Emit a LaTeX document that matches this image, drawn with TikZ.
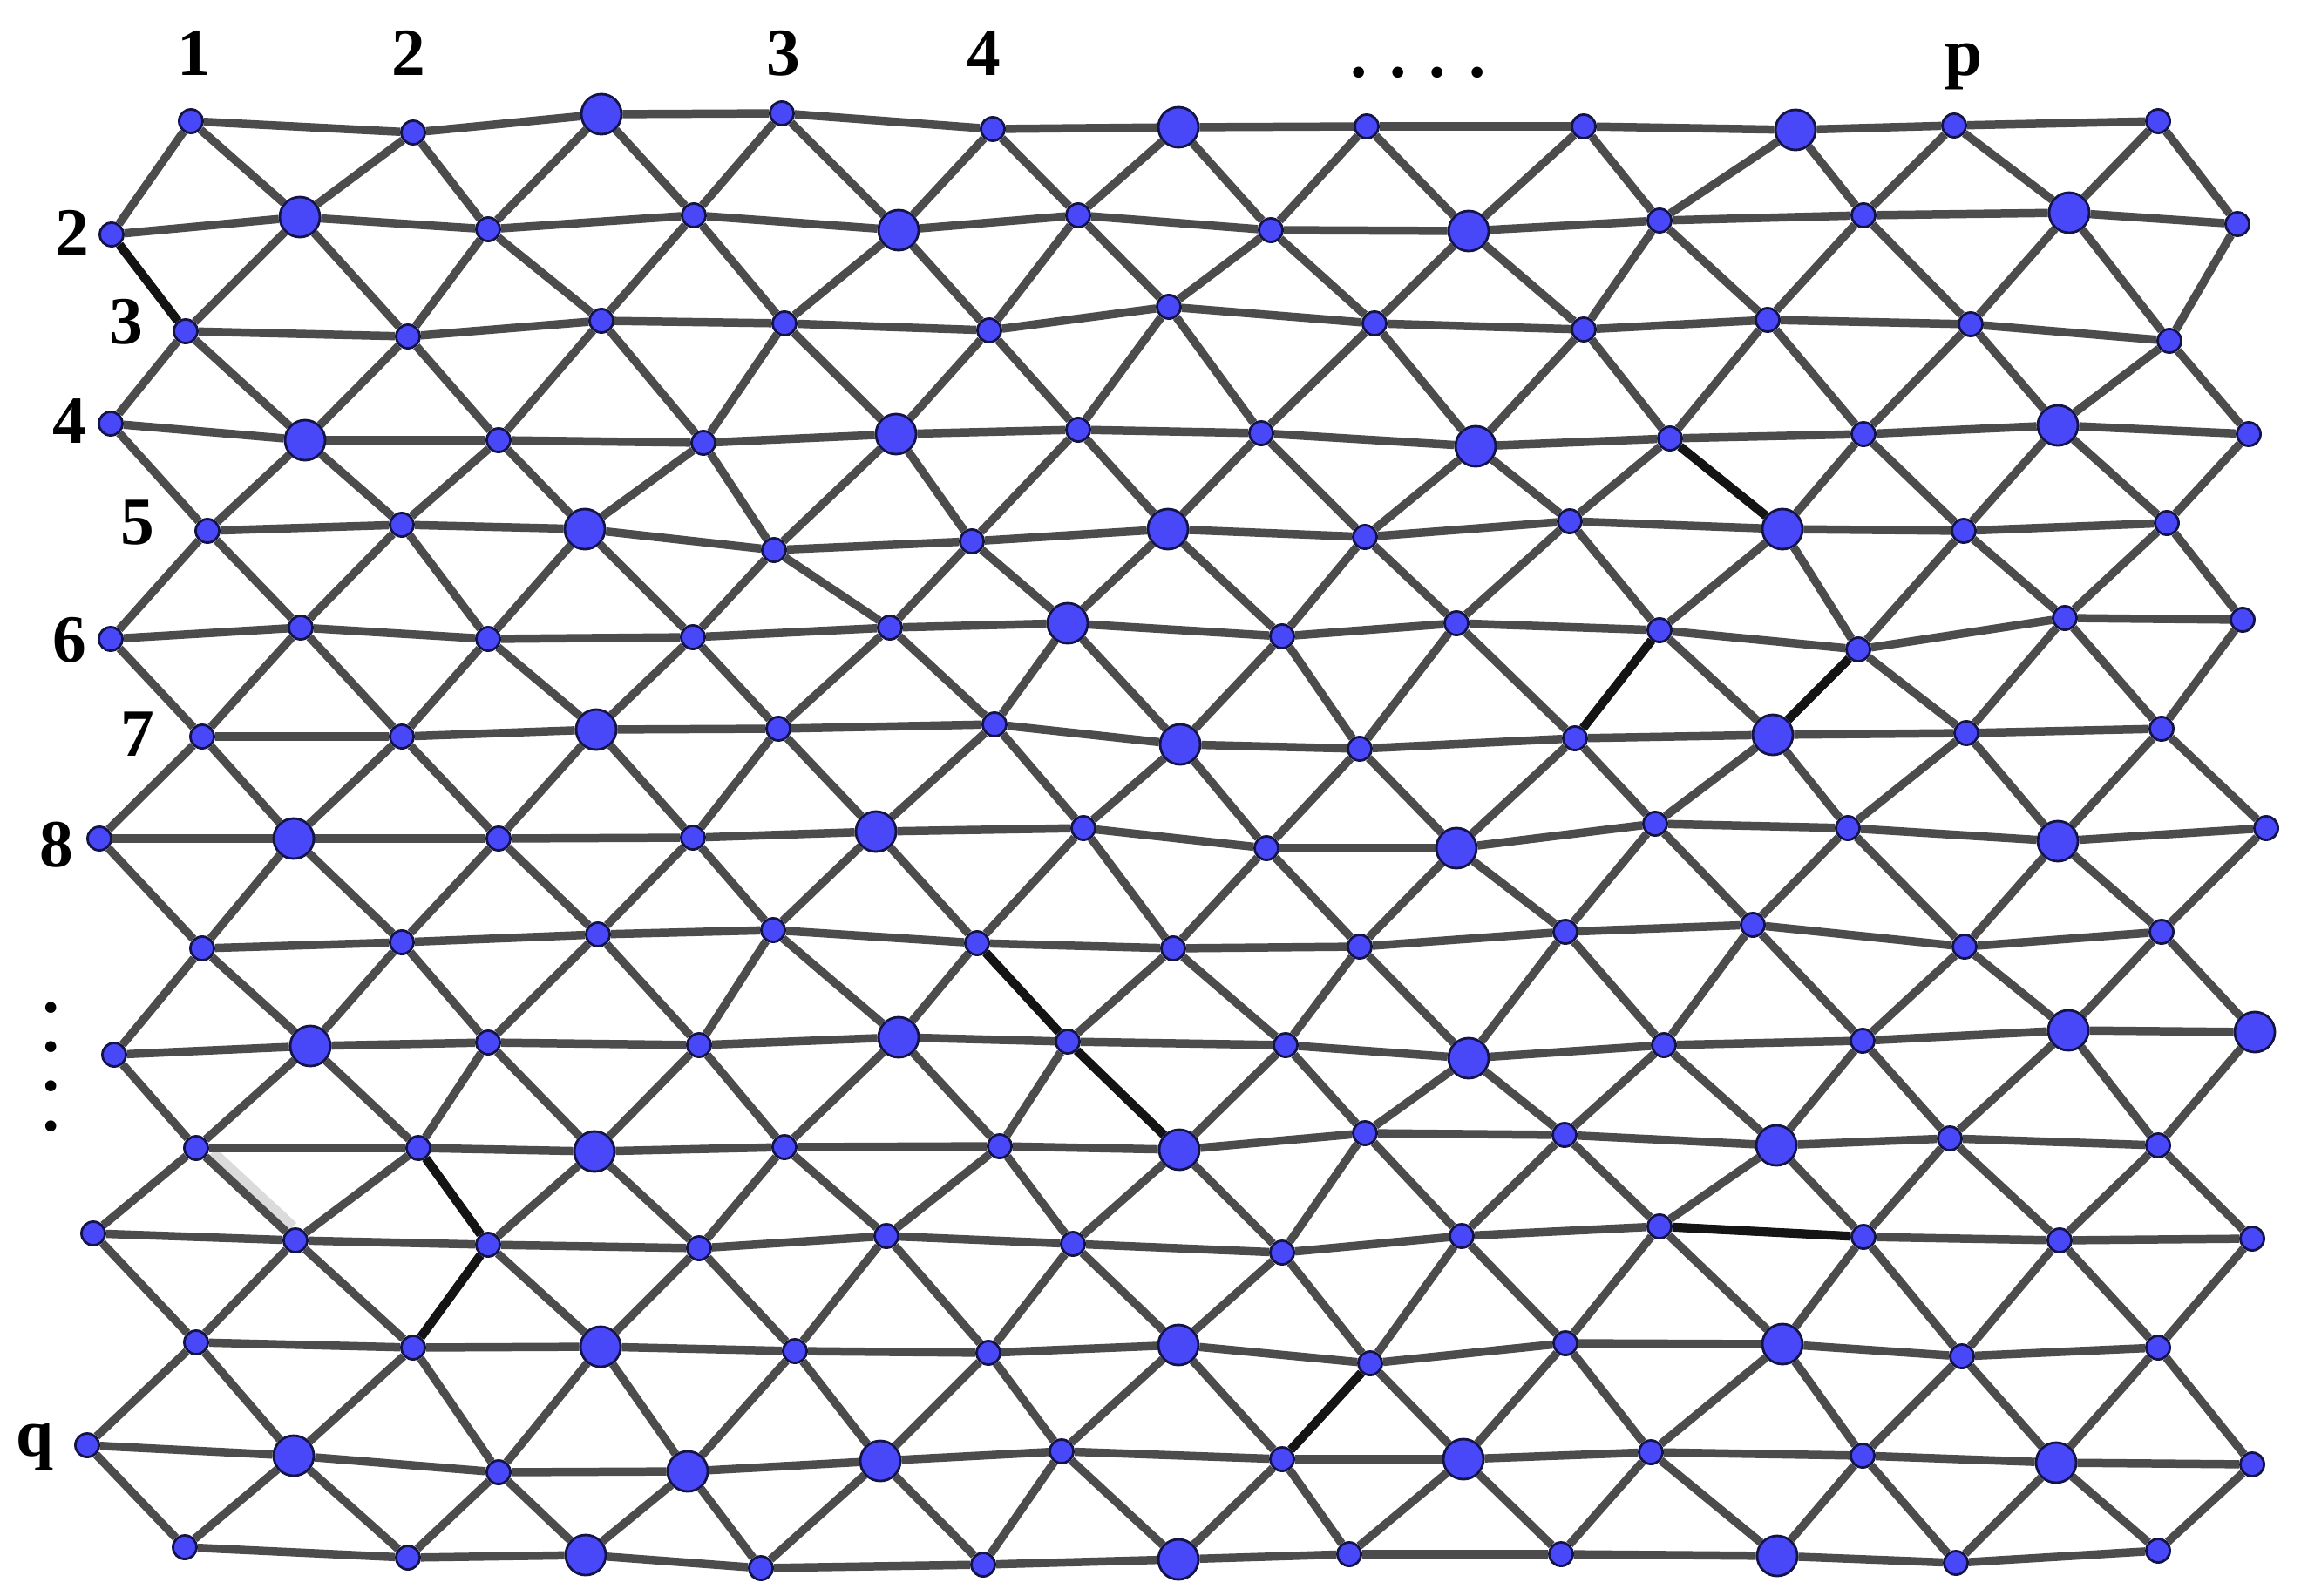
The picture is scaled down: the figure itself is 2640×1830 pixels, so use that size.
\documentclass[tikz,border=0pt]{standalone}
\usepackage{fontspec}
\setmainfont{Liberation Serif}
\pgfdeclarelayer{bg}
\pgfsetlayers{bg,main}
\definecolor{nodeblue}{RGB}{72,72,248}
\definecolor{linkgray}{RGB}{76,76,76}
\definecolor{rimblue}{RGB}{20,20,70}
\begin{document}
\begin{tikzpicture}[x=0.01cm,y=-0.01cm,
  vtx/.style={circle,draw=rimblue,line width=0.8pt,fill=nodeblue,inner sep=0pt},
  sn/.style={vtx,minimum size=0.27cm},
  bn/.style={vtx,minimum size=0.46cm},
  lnk/.style={draw=linkgray,line width=2.7pt},
  dk/.style={draw=black!92,line width=2.9pt},
  lab/.style={font=\bfseries\fontsize{22}{24}\selectfont,anchor=base,inner sep=0pt}]
\useasboundingbox (0,0) rectangle (2640,1830);
% vertices
\foreach \nm/\x/\y/\s in {
 1-1/219/139/sn, 1-2/474/152/sn, 1-3/690/131/bn, 1-4/897/130/sn, 1-5/1139/148/sn, 1-6/1352/146/bn, 1-7/1568/145/sn, 1-8/1817/145/sn, 1-9/2060/149/bn, 1-10/2242/144/sn, 1-11/2476/139/sn,
 2-1/128/269/sn, 2-2/344/249/bn, 2-3/560/263/sn, 2-4/796/247/sn, 2-5/1031/264/bn, 2-6/1237/247/sn, 2-7/1458/264/sn, 2-8/1685/265/bn, 2-9/1904/253/sn, 2-10/2138/247/sn, 2-11/2374/244/bn, 2-12/2567/257/sn,
 3-1/213/380/sn, 3-2/468/386/sn, 3-3/690/368/sn, 3-4/900/371/sn, 3-5/1135/379/sn, 3-6/1341/352/sn, 3-7/1577/371/sn, 3-8/1817/378/sn, 3-9/2028/367/sn, 3-10/2261/372/sn, 3-11/2489/391/sn,
 4-1/127/486/sn, 4-2/350/505/bn, 4-3/572/505/sn, 4-4/807/508/sn, 4-5/1028/498/bn, 4-6/1237/493/sn, 4-7/1447/497/sn, 4-8/1693/512/bn, 4-9/1916/503/sn, 4-10/2138/498/sn, 4-11/2361/488/bn, 4-12/2580/498/sn,
 5-1/238/609/sn, 5-2/461/602/sn, 5-3/671/607/bn, 5-4/888/631/sn, 5-5/1115/621/sn, 5-6/1340/607/bn, 5-7/1566/616/sn, 5-8/1801/598/sn, 5-9/2045/607/bn, 5-10/2253/609/sn, 5-11/2486/600/sn,
 6-1/127/733/sn, 6-2/345/720/sn, 6-3/560/733/sn, 6-4/795/731/sn, 6-5/1021/720/sn, 6-6/1225/715/bn, 6-7/1471/730/sn, 6-8/1671/715/sn, 6-9/1904/723/sn, 6-10/2132/745/sn, 6-11/2369/709/sn, 6-12/2573/711/sn,
 7-1/232/845/sn, 7-2/461/845/sn, 7-3/684/837/bn, 7-4/893/836/sn, 7-5/1141/831/sn, 7-6/1354/854/bn, 7-7/1560/859/sn, 7-8/1807/847/sn, 7-9/2034/843/bn, 7-10/2256/841/sn, 7-11/2480/836/sn,
 8-1/114/962/sn, 8-2/337/962/bn, 8-3/572/962/sn, 8-4/795/961/sn, 8-5/1005/954/bn, 8-6/1243/950/sn, 8-7/1453/973/sn, 8-8/1671/973/bn, 8-9/1899/945/sn, 8-10/2120/950/sn, 8-11/2361/965/bn, 8-12/2600/950/sn,
 9-1/232/1088/sn, 9-2/461/1081/sn, 9-3/686/1072/sn, 9-4/887/1067/sn, 9-5/1121/1082/sn, 9-6/1346/1088/sn, 9-7/1560/1086/sn, 9-8/1796/1069/sn, 9-9/2011/1061/sn, 9-10/2254/1086/sn, 9-11/2480/1069/sn,
 10-1/131/1210/sn, 10-2/356/1200/bn, 10-3/560/1196/sn, 10-4/802/1199/sn, 10-5/1031/1190/bn, 10-6/1225/1195/sn, 10-7/1475/1199/sn, 10-8/1685/1214/bn, 10-9/1909/1199/sn, 10-10/2137/1194/sn, 10-11/2373/1182/bn, 10-12/2587/1184/bn,
 11-1/225/1317/sn, 11-2/480/1317/sn, 11-3/682/1321/bn, 11-4/900/1316/sn, 11-5/1147/1315/sn, 11-6/1353/1319/bn, 11-7/1566/1300/sn, 11-8/1795/1302/sn, 11-9/2038/1314/bn, 11-10/2237/1306/sn, 11-11/2476/1314/sn,
 12-1/107/1415/sn, 12-2/339/1423/sn, 12-3/560/1428/sn, 12-4/802/1432/sn, 12-5/1017/1418/sn, 12-6/1231/1427/sn, 12-7/1471/1437/sn, 12-8/1677/1418/sn, 12-9/1904/1407/sn, 12-10/2138/1419/sn, 12-11/2363/1423/sn, 12-12/2584/1421/sn,
 13-1/225/1540/sn, 13-2/474/1546/sn, 13-3/689/1545/bn, 13-4/912/1550/sn, 13-5/1134/1552/sn, 13-6/1352/1543/bn, 13-7/1572/1564/sn, 13-8/1796/1541/sn, 13-9/2045/1542/bn, 13-10/2251/1556/sn, 13-11/2476/1546/sn,
 14-1/100/1658/sn, 14-2/337/1670/bn, 14-3/572/1689/sn, 14-4/789/1688/bn, 14-5/1010/1676/bn, 14-6/1218/1665/sn, 14-7/1471/1674/sn, 14-8/1679/1674/bn, 14-9/1894/1666/sn, 14-10/2137/1670/sn, 14-11/2359/1678/bn, 14-12/2584/1680/sn,
 15-1/212/1775/sn, 15-2/468/1787/sn, 15-3/672/1784/bn, 15-4/873/1799/sn, 15-5/1128/1795/sn, 15-6/1352/1789/bn, 15-7/1548/1783/sn, 15-8/1791/1783/sn, 15-9/2039/1785/bn, 15-10/2244/1793/sn, 15-11/2476/1779/sn}
 {\node[\s] (v\nm) at (\x,\y) {};}
% connectors
\begin{pgfonlayer}{bg}
% faint shadow beside one connector
\draw[line width=5pt,black!14,transform canvas={shift={(0.06cm,0.035cm)}}] (v11-1) -- (v12-2);
\foreach \r in {1,3,...,15} {
  \foreach \i in {1,...,10} {
    \pgfmathtruncatemacro\j{\i+1}
    \draw[lnk] (v\r-\i) -- (v\r-\j);
  }
}
\foreach \r in {2,4,...,14} {
  \foreach \i in {1,...,11} {
    \pgfmathtruncatemacro\j{\i+1}
    \draw[lnk] (v\r-\i) -- (v\r-\j);
  }
}
\foreach \r in {1,3,...,15} {
  \foreach \i in {1,...,11} {
    \pgfmathtruncatemacro\j{\i+1}
    \pgfmathtruncatemacro\u{\r-1}
    \pgfmathtruncatemacro\d{\r+1}
    \ifnum\r>1
      \draw[lnk] (v\r-\i) -- (v\u-\i);
      \draw[lnk] (v\r-\i) -- (v\u-\j);
    \fi
    \ifnum\r<15
      \draw[lnk] (v\r-\i) -- (v\d-\i);
      \draw[lnk] (v\r-\i) -- (v\d-\j);
    \fi
  }
}
% dark path segments
\draw[dk] (v2-1) -- (v3-1);
\draw[dk] (v4-9) -- (v5-9);
\draw[dk] (v6-9) -- (v7-8);
\draw[dk] (v6-10) -- (v7-9);
\draw[dk] (v9-5) -- (v10-6);
\draw[dk] (v10-6) -- (v11-6);
\draw[dk] (v11-2) -- (v12-3);
\draw[dk] (v12-3) -- (v13-2);
\draw[dk] (v12-9) -- (v12-10);
\draw[dk] (v13-7) -- (v14-7);
\end{pgfonlayer}
% labels
\node[lab] (c1) at (223,86) {1};
\node[lab] (c2) at (469,86) {2};
\node[lab] (c3) at (899,86) {3};
\node[lab] (c4) at (1129,86) {4};
\node[lab] (cd) at (1627,88) {. . . .};
\node[lab] (cp) at (2253,86) {p};
\node[lab] (r2) at (83,292) {2};
\node[lab] (r3) at (145,394) {3};
\node[lab] (r4) at (80,508) {4};
\node[lab] (r5) at (158,624) {5};
\node[lab] (r6) at (80,759) {6};
\node[lab] (r7) at (158,867) {7};
\node[lab] (r8) at (65,994) {8};
\node[lab] (rq) at (40,1670) {q};
\node[lab,anchor=center,rotate=-90] (rdots) at (59,1224) {. . . .};
\end{tikzpicture}
\end{document}
